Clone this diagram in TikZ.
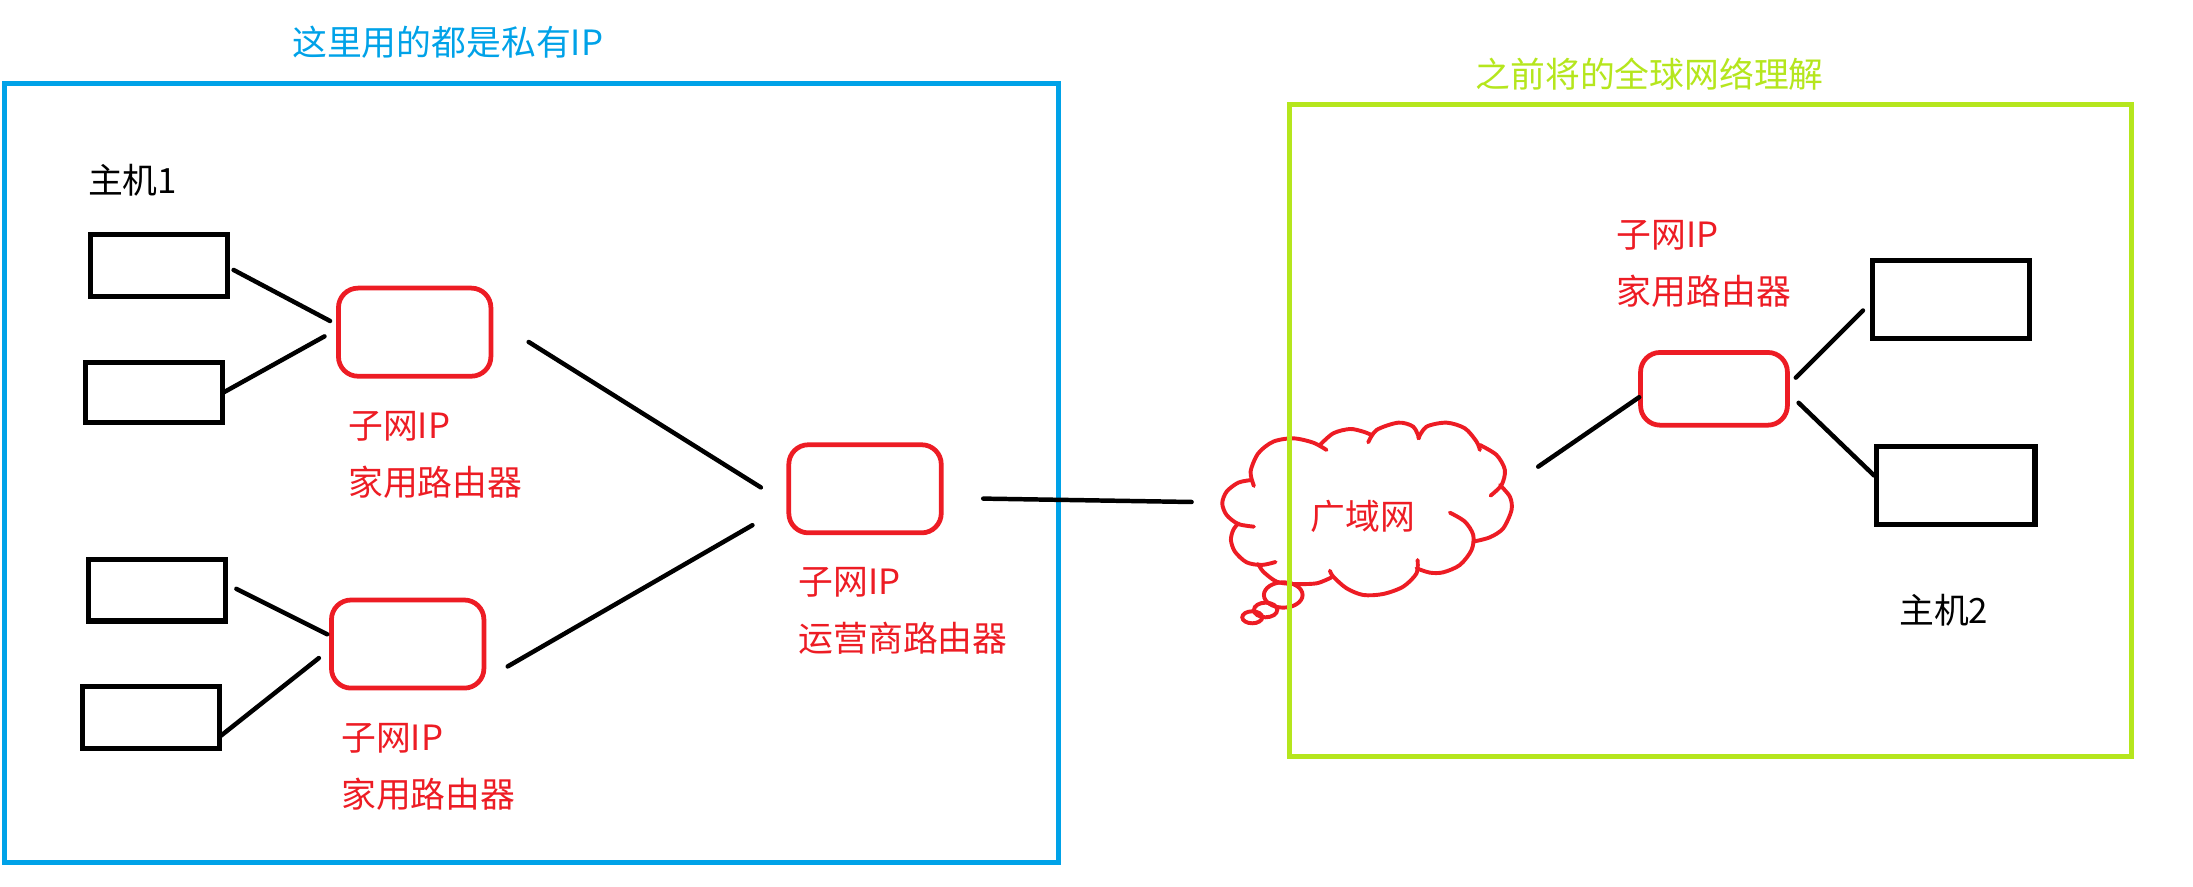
\documentclass[tikz,border=0pt]{standalone}
\usepackage{fontspec}
\setmainfont{Noto Sans CJK SC}
\definecolor{pblue}{HTML}{00A2E8}
\definecolor{pgreen}{HTML}{B5E61D}
\definecolor{pred}{HTML}{ED1C24}
\tikzset{
  hostbox/.style={draw=black,line width=3.6pt,rectangle,inner sep=0pt,outer sep=0pt},
  router/.style={draw=pred,line width=3.4pt,rectangle,rounded corners=14pt,inner sep=0pt,outer sep=0pt},
  wire/.style={draw=black,line width=3.2pt,line cap=round},
  zone/.style={line width=3.5pt,rectangle,inner sep=0pt,outer sep=0pt},
  lbl/.style={inner sep=0pt,outer sep=0pt,anchor=west,align=left,font=\fontsize{24.9}{40.8}\selectfont},
  redlbl/.style={lbl,text=pred},
  bump/.style={draw=pred,line width=2.8pt,line cap=round},
}
\begin{document}
\begin{tikzpicture}[x=1pt,y=-1pt]
\useasboundingbox (0,0) rectangle (1568,634.2);
% zones
\node[zone,draw=pblue,minimum width=754pt,minimum height=557pt] (zoneA) at (380,338.5) {};
% hosts
\node[hostbox,minimum width=98pt,minimum height=44pt] (h1) at (114,190) {};
\node[hostbox,minimum width=98pt,minimum height=43pt] (h2) at (110,280.5) {};
\node[hostbox,minimum width=98pt,minimum height=44pt] (h3) at (112,422) {};
\node[hostbox,minimum width=98pt,minimum height=44pt] (h4) at (108,513) {};
\node[hostbox,minimum width=112pt,minimum height=56pt] (h5) at (1395,214) {};
\node[hostbox,minimum width=113pt,minimum height=56pt] (h6) at (1398.5,347) {};
% routers
\node[router,minimum width=109pt,minimum height=63pt] (r1) at (296.5,237.5) {};
\node[router,minimum width=109pt,minimum height=63pt] (r2) at (291.5,460.5) {};
\node[router,minimum width=109pt,minimum height=63pt] (r3) at (618.5,349.5) {};
\node[router,minimum width=105pt,minimum height=52pt] (r4) at (1225.5,278) {};
% cloud
\begin{scope}[shift={(822.2,286)},x=0.2383pt,y=-0.2383pt]
\draw[bump] plot[smooth] coordinates {(312,258)(302,215)(325,160)(370,125)(430,115)(490,128)(530,150)};
\draw[bump] plot[smooth] coordinates {(510,135)(550,100)(600,87)(640,95)(665,105)};
\draw[bump] plot[smooth] coordinates {(655,127)(680,90)(745,68)(790,80)(808,115)};
\draw[bump] plot[smooth] coordinates {(805,115)(830,80)(890,68)(945,85)(980,125)(990,150)};
\draw[bump] plot[smooth] coordinates {(990,135)(1040,165)(1065,210)(1055,255)(1022,287)};
\draw[bump] plot[smooth] coordinates {(1050,255)(1080,290)(1085,330)(1060,385)(1020,412)(970,425)};
\draw[bump] plot[smooth] coordinates {(900,338)(945,365)(970,405)(965,450)(930,495)(880,517)(840,518)(800,505)};
\draw[bump] plot[smooth] coordinates {(803,480)(800,520)(760,560)(700,582)(640,585)(590,565)(550,530)(540,512)};
\draw[bump] plot[smooth] coordinates {(545,532)(500,550)(430,552)(380,545)(340,515)(325,492)};
\draw[bump] plot[smooth] coordinates {(377,486)(335,495)(290,487)(255,455)(243,420)(250,390)(265,370)};
\draw[bump] plot[smooth] coordinates {(312,380)(265,372)(230,345)(217,310)(230,275)(265,248)(305,240)};
\draw[bump] (400,585) ellipse (58 and 38);
\draw[bump] (347,630) ellipse (35 and 22);
\draw[bump] (307,652) ellipse (30 and 18);
\coordinate (cloudW) at (125,306);
\coordinate (cloudE) at (1165,200);
\end{scope}
\node[zone,draw=pgreen,minimum width=602pt,minimum height=466pt] (zoneB) at (1223,308) {};
% connectors
\draw[wire] ([shift={(4,3)}]h1.east) -- ([shift={(-6,-8)}]r1.west);
\draw[wire] ([shift={(1,-0)}]h2.east) -- ([shift={(-10,3)}]r1.west);
\draw[wire] ([shift={(8,-1)}]h3.east) -- ([shift={(-3,-7)}]r2.west);
\draw[wire] ([shift={(1,13)}]h4.east) -- ([shift={(-9,10)}]r2.west);
\draw[wire] ([shift={(27,7)}]r1.east) -- ([shift={(-20,-1)}]r3.west);
\draw[wire] ([shift={(17,16)}]r2.east) -- ([shift={(-26,26)}]r3.west);
\draw[wire] ([shift={(30,7)}]r3.east) -- (cloudW);
\draw[wire] (cloudE) -- ([shift={(-1,6)}]r4.west);
\draw[wire] ([shift={(6,-8)}]r4.east) -- ([shift={(-7,8)}]h5.west);
\draw[wire] ([shift={(8,10)}]r4.east) -- ([shift={(-2,-7)}]h6.west);
% labels
\node[lbl,text=pblue] (t1) at (209,30) {这里用的都是私有IP};
\node[lbl,text=pgreen] (t2) at (1055,53) {之前将的全球网络理解};
\node[lbl] (t3) at (63,129) {主机1};
\node[lbl] (t4) at (1358,436) {主机2};
\node[redlbl] (l1) at (249,325.5) {子网IP\\家用路由器};
\node[redlbl] (l2) at (244,548) {子网IP\\家用路由器};
\node[redlbl] (l3) at (571,437) {子网IP\\运营商路由器};
\node[redlbl] (l4) at (1156,189) {子网IP\\家用路由器};
\node[redlbl] (wan) at (937,369) {广域网};
\end{tikzpicture}
\end{document}
